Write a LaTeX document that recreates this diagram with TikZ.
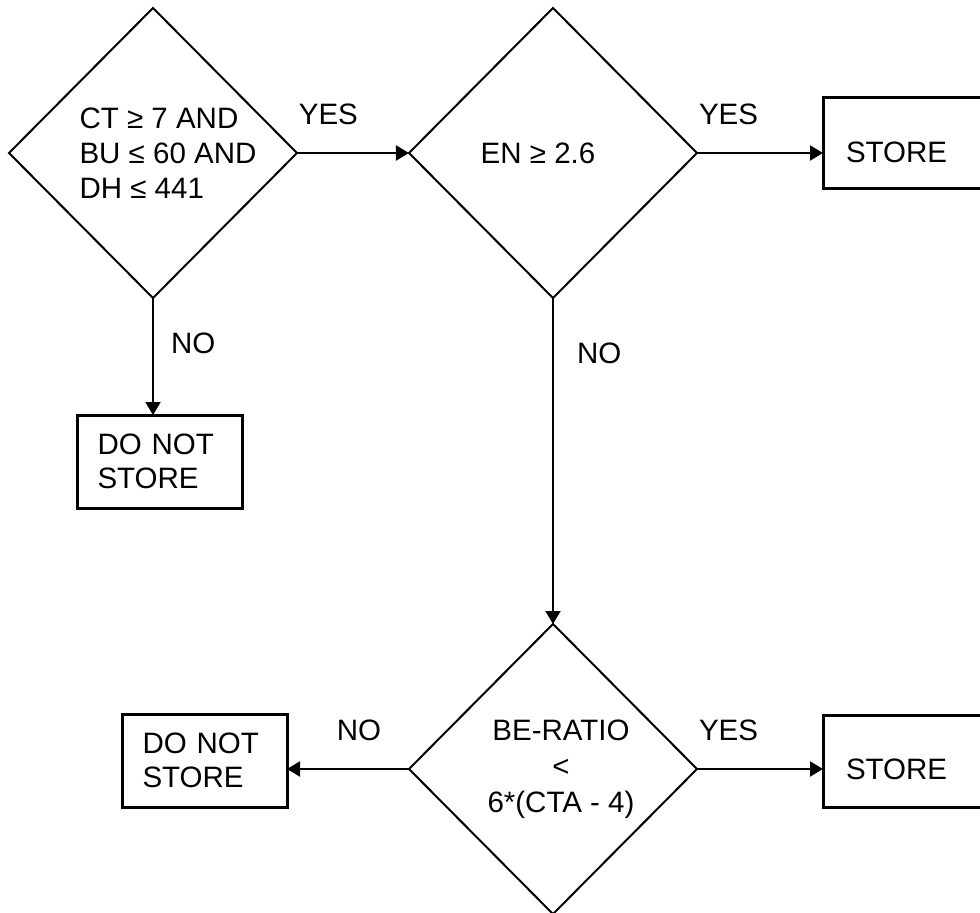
\documentclass[tikz,border=0pt]{standalone}
\usepackage{fontspec}
\setmainfont{Liberation Sans}
\usetikzlibrary{arrows.meta,positioning,shapes.geometric}

\begin{document}
\begin{tikzpicture}[
  x=1pt, y=-1pt,
  node distance=112pt,
  decision/.style={diamond, draw, line width=2pt, aspect=1, minimum width=288pt, minimum height=290pt, inner sep=0pt, outer sep=0pt},
  box/.style={rectangle, draw, line width=3pt, inner ysep=0pt, outer sep=0pt, align=left, font=\fontsize{29.5}{34}\selectfont},
  lbl/.style={inner sep=0pt, font=\fontsize{29.5}{35}\selectfont},
  arr/.style={-{Triangle[length=13pt,width=15pt]}, line width=2pt}
]
\clip (0,0) rectangle (980,913);

\node[decision, label={[lbl, align=left, xshift=15pt]center:CT ≥ 7 AND\\BU ≤ 60 AND\\DH ≤ 441}] (ct) at (153,153) {};

\node[decision, right=of ct, label={[lbl, xshift=-15pt]center:EN ≥ 2.6}] (en) {};

\node[decision, label={[lbl, align=center, xshift=8pt, font=\fontsize{29.5}{36}\selectfont]center:BE-RATIO\\<\\6*(CTA - 4)}] (be) at (553,769) {};

\node[box, anchor=base west, inner xsep=23pt, text width=180pt, text height=65pt, text depth=26pt] (st1) at (823,162) {STORE};

\node[box, anchor=base west, inner xsep=23pt, text width=180pt, text height=64pt, text depth=28pt] (st2) at (823,779) {STORE};

\node[box, anchor=north west, inner xsep=20.5pt, text width=124pt, minimum height=93pt] (dns1) at (77,415) {DO NOT\\STORE};

\node[box, anchor=north west, inner xsep=20.5pt, text width=124pt, minimum height=93pt] (dns2) at (122,714) {DO NOT\\STORE};

\draw[arr] (ct) -- node[lbl, above=27pt, pos=0.28] {YES} (en);
\draw[arr] (en) -- node[lbl, above=27pt, pos=0.25] {YES} (en -| st1.west);
\draw[arr] (ct) -- node[lbl, right=17pt, pos=0.39] {NO} (ct |- dns1.north);
\draw[arr] (en) -- node[lbl, right=23pt, pos=0.17] {NO} (be);
\draw[arr] (be) -- node[lbl, above=27pt, pos=0.41] {NO} (be -| dns2.east);
\draw[arr] (be) -- node[lbl, above=27pt, pos=0.25] {YES} (be -| st2.west);
\end{tikzpicture}
\end{document}
